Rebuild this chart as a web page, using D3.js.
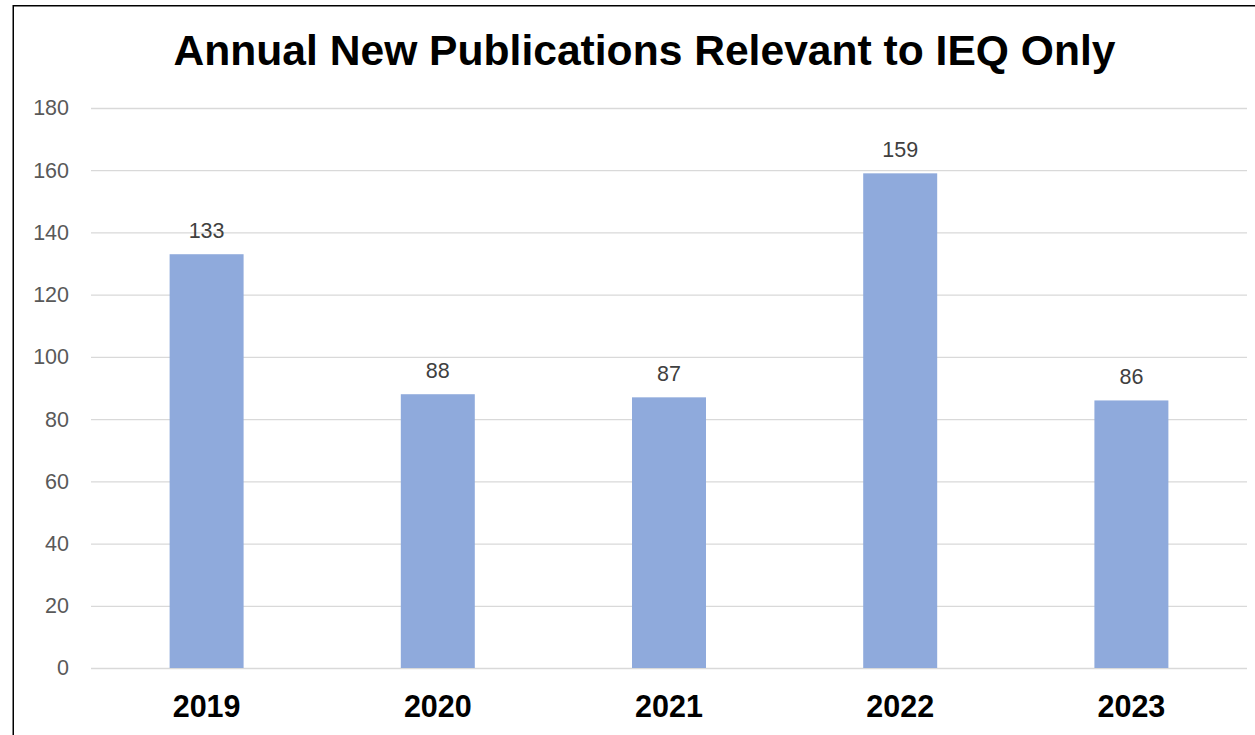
<!DOCTYPE html>
<html>
<head>
<meta charset="utf-8">
<script src="https://cdn.jsdelivr.net/npm/d3@7"></script>
<style>
  html, body { margin: 0; padding: 0; background: #fff; }
  svg { display: block; }
</style>
</head>
<body>
<svg id="chart" width="1255" height="735"></svg>
<script>
// Annual publication counts
const years = ["2019", "2020", "2021", "2022", "2023"];
const publications = [133, 88, 87, 159, 86];
const yTicks = [0, 20, 40, 60, 80, 100, 120, 140, 160, 180];
const titleText = "Annual New Publications Relevant to IEQ Only";

const svg = d3.select("#chart");
const font = "'Liberation Sans', Arial, sans-serif";

// Chart frame
svg.append("rect")
  .attr("x", 13.25).attr("y", 5.75)
  .attr("width", 1300).attr("height", 800)
  .attr("fill", "#fff")
  .attr("stroke", "#000").attr("stroke-width", 1.5);

const plot = { left: 91, right: 1247, top: 108, bottom: 668 };

const x = d3.scaleBand()
  .domain(years)
  .range([plot.left, plot.right])
  .paddingInner(0.68)
  .paddingOuter(0.34);

const y = d3.scaleLinear()
  .domain([0, 180])
  .range([plot.bottom, plot.top]);

// Title
svg.append("text")
  .attr("x", 644.5).attr("y", 65)
  .attr("text-anchor", "middle")
  .attr("font-family", font)
  .attr("font-weight", "bold")
  .attr("font-size", 42.6)
  .attr("fill", "#000")
  .text(titleText);

// Horizontal gridlines and value axis labels
const yAxis = d3.axisLeft(y)
  .tickValues(yTicks)
  .tickSize(-(plot.right - plot.left))
  .tickPadding(22);

const gy = svg.append("g")
  .attr("transform", `translate(${plot.left},0)`)
  .call(yAxis);
gy.select(".domain").remove();
gy.selectAll(".tick line").attr("stroke", "#d9d9d9").attr("stroke-width", 1.3);
gy.selectAll(".tick text")
  .attr("font-family", font)
  .attr("font-size", 21.5)
  .attr("fill", "#595959");

// Bars
svg.append("g").selectAll("rect")
  .data(years)
  .join("rect")
  .attr("x", d => x(d))
  .attr("width", x.bandwidth())
  .attr("y", (d, i) => y(publications[i]))
  .attr("height", (d, i) => y(0) - y(publications[i]))
  .attr("fill", "#8faadc");

// Value labels above bars
svg.append("g").selectAll("text")
  .data(years)
  .join("text")
  .attr("x", d => x(d) + x.bandwidth() / 2)
  .attr("y", (d, i) => y(publications[i]) - 16)
  .attr("text-anchor", "middle")
  .attr("font-family", font)
  .attr("font-size", 21.5)
  .attr("fill", "#404040")
  .text((d, i) => publications[i]);

// Category axis
const xAxis = d3.axisBottom(x).tickSize(0).tickPadding(0);
const gx = svg.append("g")
  .attr("transform", `translate(0,${plot.bottom})`)
  .call(xAxis);
gx.select(".domain").remove();
gx.selectAll(".tick text")
  .attr("dy", null)
  .attr("y", 49)
  .attr("font-family", font)
  .attr("font-weight", "bold")
  .attr("font-size", 30.5)
  .attr("fill", "#000");
</script>
</body>
</html>
